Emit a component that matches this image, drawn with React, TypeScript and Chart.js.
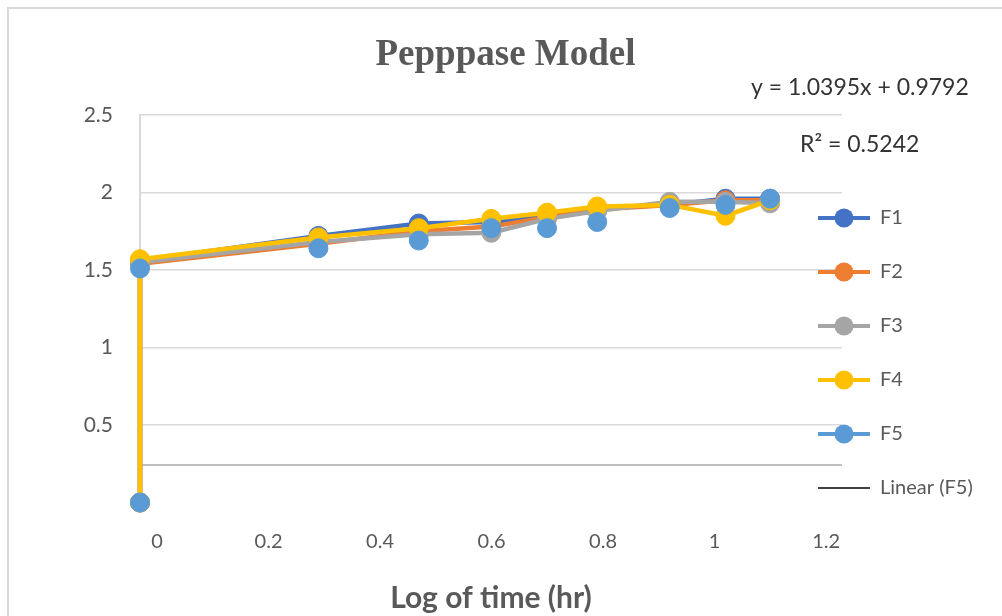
import React, { useEffect, useRef } from 'react';
import { Chart, registerables } from 'chart.js';

Chart.register(...registerables);

// ---- data ----
const chartTitle = 'Pepppase Model';
const xTitle = 'Log of time (hr)';
const logTime = [0, 0, 0.32, 0.5, 0.63, 0.73, 0.82, 0.95, 1.05, 1.13];
const f1 = [0, 1.56, 1.72, 1.8, 1.81, 1.85, 1.9, 1.92, 1.96, 1.96];
const f2 = [0, 1.54, 1.67, 1.75, 1.78, 1.84, 1.89, 1.92, 1.95, 1.95];
const f3 = [0, 1.55, 1.68, 1.73, 1.74, 1.83, 1.88, 1.94, 1.94, 1.93];
const f4 = [0, 1.57, 1.71, 1.77, 1.83, 1.87, 1.91, 1.92, 1.85, 1.95];
const f5 = [0, 1.51, 1.64, 1.69, 1.77, 1.77, 1.81, 1.9, 1.92, 1.96];
const seriesNames = ['F1', 'F2', 'F3', 'F4', 'F5'];
const seriesValues = [f1, f2, f3, f4, f5];
const seriesColors = ['#4472C4', '#ED7D31', '#A5A5A5', '#FFC000', '#5B9BD5'];
const trendName = 'Linear (F5)';
const trendEquation = 'y = 1.0395x + 0.9792';
const trendR2 = 'R\u00B2 = 0.5242';
const yTickValues = [0.5, 1, 1.5, 2, 2.5];
const xAxisCrossing = 0.242; // where the horizontal axis line crosses the value axis
const yMin = 0;
const yMax = 2.5;
const xMin = 0;
const xMax = 1.259;

// ---- layout constants (canvas px) ----
const CANVAS_W = 993;
const CANVAS_H = 607;
const LEGEND_PAD = 34;
const LEGEND_LEFT = 775;
const LEGEND_TOP = 165;
const TEXT_COLOR = '#595959';

function makeIcon(color: string, marker: boolean, lw: number): HTMLCanvasElement {
  const c = document.createElement('canvas');
  c.width = 52;
  c.height = 22;
  const ctx = c.getContext('2d')!;
  ctx.strokeStyle = color;
  ctx.lineWidth = lw;
  ctx.beginPath();
  ctx.moveTo(0, 11);
  ctx.lineTo(52, 11);
  ctx.stroke();
  if (marker) {
    ctx.fillStyle = color;
    ctx.beginPath();
    ctx.arc(26, 11, 9.5, 0, Math.PI * 2);
    ctx.fill();
  }
  return c;
}

const legendPlacer = {
  id: 'legendPlacer',
  afterLayout(chart: any) {
    const lg = chart.legend;
    if (!lg) return;
    lg.left = LEGEND_LEFT;
    lg.right = chart.width;
    lg.width = chart.width - LEGEND_LEFT;
    lg.top = LEGEND_TOP;
    lg.bottom = chart.height;
    lg.height = chart.height - LEGEND_TOP;
  },
};

const equationText = {
  id: 'equationText',
  afterDraw(chart: any) {
    const ctx = chart.ctx;
    ctx.save();
    ctx.fillStyle = '#333333';
    ctx.font = '23px Lato';
    ctx.textBaseline = 'middle';
    ctx.textAlign = 'left';
    ctx.fillText(trendEquation, 742, 79);
    ctx.fillText(trendR2, 791, 136);
    ctx.restore();
  },
};

export default function App() {
  const ref = useRef<HTMLCanvasElement | null>(null);

  useEffect(() => {
    if (!ref.current) return;
    const datasets: any[] = seriesNames.map((name, i) => ({
      label: name,
      data: logTime.map((x, k) => ({ x, y: seriesValues[i][k] })),
      borderColor: seriesColors[i],
      backgroundColor: seriesColors[i],
      pointBackgroundColor: seriesColors[i],
      pointBorderColor: seriesColors[i],
      borderWidth: 4.5,
      pointRadius: 9.5,
      pointBorderWidth: 1,
      showLine: i !== 4,
      tension: 0,
      clip: false,
      order: 4 - i,
      borderCapStyle: 'round',
      borderJoinStyle: 'round',
    }));
    datasets.push({
      label: trendName,
      data: [],
      borderColor: '#000000',
      backgroundColor: '#000000',
      borderWidth: 1.5,
      pointRadius: 0,
      order: 5,
    });

    const icons = seriesColors.map((c) => makeIcon(c, true, 4));
    const trendIcon = makeIcon('#000000', false, 1.5);

    const chart = new Chart(ref.current, {
      type: 'line',
      data: { datasets },
      plugins: [legendPlacer, equationText],
      options: {
        responsive: false,
        animation: false,
        devicePixelRatio: 1,
        layout: { padding: 0 },
        scales: {
          x: {
            type: 'linear',
            min: xMin,
            max: xMax,
            grid: { display: false, drawTicks: false },
            border: { display: false },
            ticks: {
              stepSize: 0.2,
              includeBounds: false,
              labelOffset: 17,
              padding: 27,
              color: TEXT_COLOR,
              font: { family: 'Lato', size: 20 },
              maxRotation: 0,
              callback: (v: any) => String(Math.round(Number(v) * 10) / 10),
            },
            title: {
              display: true,
              text: xTitle,
              color: TEXT_COLOR,
              font: { family: 'Lato', size: 30, weight: 'bold' },
              padding: { top: 2, bottom: 0 },
            },
            afterFit: (s: any) => {
              s.height = 113.5;
            },
          },
          y: {
            type: 'linear',
            min: yMin,
            max: yMax,
            afterBuildTicks: (s: any) => {
              s.ticks = [xAxisCrossing, ...yTickValues].map((value) => ({ value }));
            },
            grid: {
              color: (c: any) => (c.tick && c.tick.value === xAxisCrossing ? '#bfbfbf' : '#d9d9d9'),
              lineWidth: (c: any) => (c.tick && c.tick.value === xAxisCrossing ? 2 : 1.5),
              drawTicks: false,
            },
            border: { display: true, color: '#d9d9d9', width: 2 },
            ticks: {
              padding: 27,
              color: TEXT_COLOR,
              font: { family: 'Lato', size: 21 },
              callback: (v: any) =>
                Number(v) === xAxisCrossing ? '' : String(Math.round(Number(v) * 10) / 10),
            },
            afterFit: (s: any) => {
              s.width = 131;
            },
          },
        },
        plugins: {
          title: {
            display: true,
            text: chartTitle,
            color: TEXT_COLOR,
            font: { family: 'Liberation Serif', size: 37, weight: 'bold' },
            padding: { top: 23.8, bottom: 37.8 },
          },
          legend: {
            position: 'right',
            align: 'start',
            maxWidth: 160,
            labels: {
              usePointStyle: true,
              pointStyleWidth: 52,
              padding: LEGEND_PAD,
              color: TEXT_COLOR,
              font: { family: 'Lato', size: 20 },
              generateLabels: () => {
                const items: any[] = seriesNames.map((name, i) => ({
                  text: name,
                  pointStyle: icons[i],
                  fillStyle: seriesColors[i],
                  strokeStyle: seriesColors[i],
                  lineWidth: 0,
                  hidden: false,
                  datasetIndex: i,
                  fontColor: TEXT_COLOR,
                }));
                items.push({
                  text: trendName,
                  pointStyle: trendIcon,
                  fillStyle: '#000000',
                  strokeStyle: '#000000',
                  lineWidth: 0,
                  hidden: false,
                  datasetIndex: 5,
                  fontColor: TEXT_COLOR,
                });
                return items;
              },
            },
          },
          tooltip: { enabled: false },
        },
      } as any,
    });
    return () => chart.destroy();
  }, []);

  return (
    <div
      style={{
        position: 'fixed',
        left: 7,
        top: 7,
        width: 1000,
        height: 620,
        borderLeft: '2px solid #d9d9d9',
        borderTop: '2px solid #d9d9d9',
        background: '#ffffff',
      }}
    >
      <canvas ref={ref} width={CANVAS_W} height={CANVAS_H} style={{ display: 'block' }} />
    </div>
  );
}
